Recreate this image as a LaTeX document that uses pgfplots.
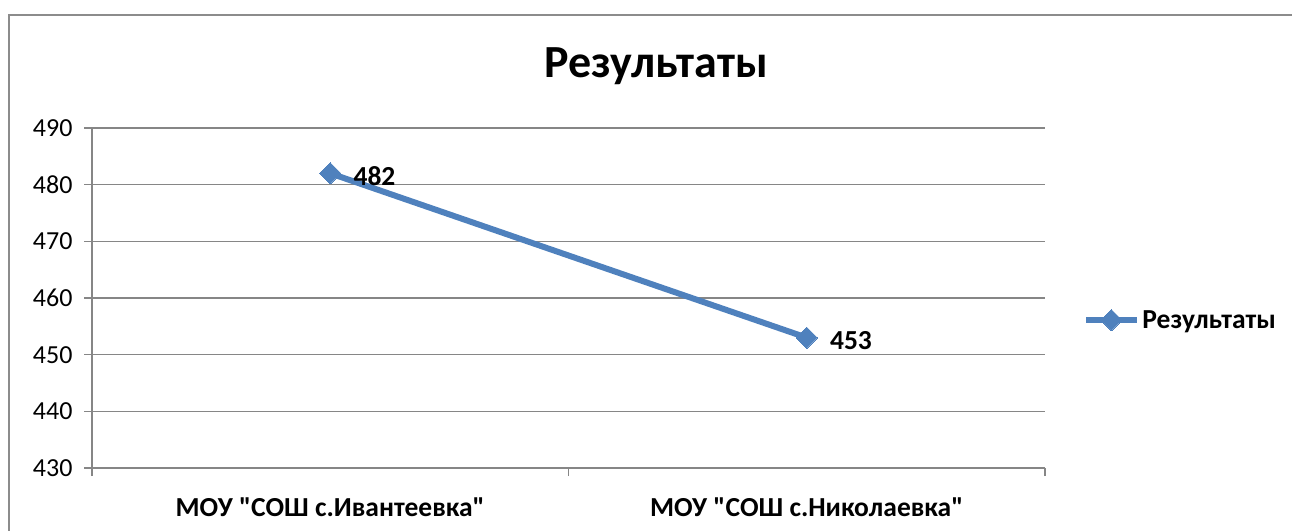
\documentclass[border=0pt]{standalone}
\usepackage{fontspec}
\setmainfont{Carlito}[Ligatures=TeXOff]
\usepackage{pgfplots}
\pgfplotsset{compat=1.18}
\definecolor{serblue}{HTML}{4F81BD}
\definecolor{gridgray}{HTML}{868686}
\definecolor{framegray}{HTML}{8C8C8C}
\begin{document}
\begin{tikzpicture}
\useasboundingbox (0,0) rectangle (1292pt,530pt);
\draw[framegray, line width=2pt] (9pt,-5pt) -- (9pt,515pt) -- (1300pt,515pt);
\node[anchor=base, font=\bfseries\fontsize{46}{52}\selectfont, inner sep=0pt] at (656pt,452pt) {Результаты};
\begin{axis}[
  at={(92pt,62pt)}, anchor=south west,
  scale only axis, width=953pt, height=340pt,
  xmin=0, xmax=2, ymin=430, ymax=490,
  ytick={430,440,450,460,470,480,490},
  xtick={0.5,1.5},
  xticklabels={{МОУ "СОШ с.Ивантеевка"},{МОУ "СОШ с.Николаевка"}},
  minor xtick={0,1,2},
  major x tick style={draw=none},
  minor x tick style={draw=gridgray, line width=1.5pt},
  y tick style={draw=gridgray, line width=1.5pt},
  tick align=outside,
  major tick length=8pt, minor tick length=8pt,
  axis x line*=bottom, axis y line*=left,
  axis line style={draw=gridgray, line width=1.5pt, -},
  ymajorgrids, grid style={draw=gridgray, line width=1.5pt},
  /pgf/number format/assume math mode=true,
  yticklabel style={font=\fontsize{26}{30}\selectfont, xshift=-8pt},
  xticklabel style={font=\bfseries\fontsize{27.5}{32}\selectfont, yshift=-18pt},
  legend style={at={(1.04,0.435)}, anchor=west, draw=none, fill=none, inner sep=0pt,
    font=\bfseries\fontsize{27.5}{32}\selectfont},
  legend cell align=left,
  legend image code/.code={\draw[mark repeat=2, mark phase=2, #1] plot coordinates {(0pt,0pt) (25pt,0pt) (51pt,0pt)};},
  clip=false,
]
\addplot[serblue, line width=6pt, mark=square*, mark size=7.5pt,
  mark options={rotate=45, line width=0pt, fill=serblue, draw=serblue},
  nodes near coords={\bfseries\pgfmathprintnumber{\pgfplotspointmeta}},
  every node near coord/.append style={anchor=west, xshift=20pt, yshift=-3pt, black,
    font=\bfseries\fontsize{27.5}{32}\selectfont}]
  coordinates {(0.5,482) (1.5,453)};
\addlegendentry{Результаты}
\end{axis}
\end{tikzpicture}
\end{document}
